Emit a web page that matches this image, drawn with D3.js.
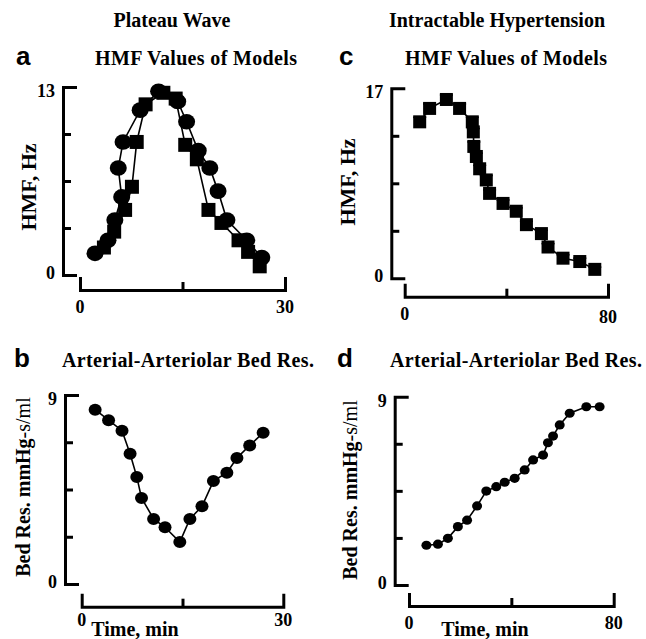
<!DOCTYPE html>
<html>
<head>
<meta charset="utf-8">
<script src="https://cdn.jsdelivr.net/npm/d3@7"></script>
<style>
  html, body { margin: 0; padding: 0; background: #fff; }
  svg { display: block; }
  .serif { font-family: "Liberation Serif", "Times New Roman", serif; font-weight: bold; }
  .sans { font-family: "Liberation Sans", Arial, sans-serif; font-weight: bold; }
</style>
</head>
<body>
<svg id="chart" width="646" height="639"></svg>
<script>
// ---- Panel a: HMF of the plateau-wave models (two model series) ----
const aTimeCircle = [2.2, 4.1, 5.1, 6.1, 5.6, 6.3, 8.8, 11.5, 14.3, 15.6, 17.3, 19.0, 20.2, 21.5, 24.4, 26.6];
const aHmfCircle  = [1.5, 2.4, 3.8, 5.4, 7.4, 9.2, 11.4, 12.7, 12.0, 10.6, 8.6, 7.4, 5.8, 3.8, 2.4, 1.2];
const aTimeSquare = [3.5, 5.0, 6.6, 7.6, 8.3, 9.6, 12.2, 14.0, 15.4, 17.1, 18.8, 20.7, 23.2, 24.6, 26.3];
const aHmfSquare  = [1.9, 3.0, 4.5, 6.1, 9.2, 11.8, 12.6, 12.2, 9.0, 8.0, 4.5, 3.6, 2.4, 1.6, 0.6];

// ---- Panel b: arterial-arteriolar bed resistance, plateau wave ----
const bTime = [2.0, 4.0, 6.0, 7.2, 8.2, 8.9, 10.7, 12.4, 14.6, 16.1, 17.9, 19.6, 21.6, 23.1, 25.0, 27.0];
const bRes  = [8.3, 7.8, 7.3, 6.2, 5.1, 4.1, 3.1, 2.7, 2.0, 3.1, 3.7, 4.9, 5.3, 6.0, 6.6, 7.2];

// ---- Panel c: HMF of the intractable-hypertension model ----
const cTime = [5.9, 9.8, 16.4, 21.6, 26.6, 27.0, 27.2, 28.2, 29.5, 32.1, 33.4, 38.7, 43.9, 47.9, 53.8, 56.4, 62.3, 68.9, 74.8];
const cHmf  = [14.0, 15.2, 16.0, 15.2, 14.0, 13.1, 11.8, 10.9, 9.8, 8.8, 7.6, 6.7, 6.0, 4.8, 4.0, 2.8, 1.8, 1.5, 0.8];
const cErr  = [0.4, 0.4, 0.4, 0.4, 0.4, 0.3, 0.4, 0.3, 0.3, 0.4, 0.3, 0.3, 0.3, 0.3, 0.3, 0.3, 0.3, 0.3, 0.2];

// ---- Panel d: arterial-arteriolar bed resistance, intractable hypertension ----
const dTime = [6.8, 11.3, 15.2, 19.1, 22.7, 26.6, 30.2, 34.1, 37.4, 41.3, 45.2, 48.5, 52.4, 54.3, 56.3, 58.9, 62.8, 69.3, 74.5];
const dRes  = [1.9, 1.95, 2.23, 2.79, 3.1, 3.78, 4.49, 4.7, 4.91, 5.1, 5.5, 5.98, 6.21, 6.8, 7.12, 7.65, 8.21, 8.52, 8.52];

// ---- Axis domains and tick labels ----
const aYMax = 13, bYMax = 9, cYMax = 17, dYMax = 9;
const aXMax = 30, bXMax = 30, cXMax = 80, dXMax = 80;
const columnTitles = ["Plateau Wave", "Intractable Hypertension"];
const panelLetters = ["a", "b", "c", "d"];
const panelTitles = ["HMF Values of Models", "Arterial-Arteriolar Bed Res.", "HMF Values of Models", "Arterial-Arteriolar Bed Res."];
const hmfLabel = "HMF, Hz";
const resLabelBold = "Bed Res. mmHg";
const resLabelUnit = "-s/ml";
const timeLabel = "Time, min";

const svg = d3.select("#chart");

// Column headings
svg.append("text").attr("class", "serif").attr("x", 172).attr("y", 27)
  .attr("text-anchor", "middle").attr("font-size", 20).text(columnTitles[0]);
svg.append("text").attr("class", "serif").attr("x", 497).attr("y", 27)
  .attr("text-anchor", "middle").attr("font-size", 20).text(columnTitles[1]);

// Draws one panel: bracket-style y axis, detached x axis, series and labels.
function panel(o) {
  const g = svg.append("g");
  const x = d3.scaleLinear().domain([0, o.xMax]).range([o.x0, o.x1]);
  const y = d3.scaleLinear().domain([0, o.yMax]).range([o.yBottom, o.yTop]);

  // letter and title
  g.append("text").attr("class", "sans").attr("x", o.letterX).attr("y", o.titleY)
    .attr("font-size", 26).text(o.letter);
  g.append("text").attr("class", "serif").attr("x", o.titleX).attr("y", o.titleY)
    .attr("font-size", 20).attr("textLength", o.titleWidth).attr("lengthAdjust", "spacing")
    .text(o.title);

  // y axis: bracket with inward ticks
  const yTicks = [1, 2, 3].map(i => o.yMax * i / 4);
  const yAxis = d3.axisRight(y).tickValues(yTicks).tickSizeInner(8).tickSizeOuter(14).tickFormat("");
  const ya = g.append("g").attr("transform", `translate(${o.yAxisX},0)`).call(yAxis);
  ya.selectAll("path, line").attr("stroke", "#000").attr("stroke-width", 3);

  // x axis: detached line with upward end caps and a middle tick
  const xAxis = d3.axisTop(x).tickValues([o.xMax / 2]).tickSizeInner(8).tickSizeOuter(13).tickFormat("");
  const xa = g.append("g").attr("transform", `translate(0,${o.xAxisY})`).call(xAxis);
  xa.selectAll("path, line").attr("stroke", "#000").attr("stroke-width", 3);

  // tick labels
  g.append("text").attr("class", "serif").attr("font-size", 18).attr("text-anchor", "end")
    .attr("x", o.yAxisX - 8).attr("y", y(o.yMax) + 10).text(o.yMax);
  g.append("text").attr("class", "serif").attr("font-size", 18).attr("text-anchor", "end")
    .attr("x", o.yAxisX - 8).attr("y", y(0) + 4).text(0);
  g.append("text").attr("class", "serif").attr("font-size", 18).attr("text-anchor", "middle")
    .attr("x", x(0)).attr("y", o.xLabelY).text(0);
  g.append("text").attr("class", "serif").attr("font-size", 18).attr("text-anchor", "middle")
    .attr("x", x(o.xMax)).attr("y", o.xLabelY + (o.xMaxDrop || 0)).text(o.xMax);

  // y axis title
  const yl = g.append("text").attr("class", "serif").attr("font-size", o.yLabelSize)
    .attr("text-anchor", "middle")
    .attr("transform", `translate(${o.yLabelX},${o.yLabelY}) rotate(-90)`);
  if (o.yLabelUnit) {
    yl.append("tspan").text(o.yLabel);
    yl.append("tspan").attr("font-weight", "normal").text(o.yLabelUnit);
  } else {
    yl.text(o.yLabel);
  }

  if (o.timeLabelX) {
    g.append("text").attr("class", "serif").attr("font-size", 20).attr("text-anchor", "middle")
      .attr("x", o.timeLabelX).attr("y", 636).text(timeLabel);
  }

  const line = d3.line().x(d => x(d[0])).y(d => y(d[1]));
  o.series.forEach(s => {
    const pts = d3.zip(s.t, s.v);
    g.append("path").datum(pts).attr("d", line).attr("fill", "none")
      .attr("stroke", "#000").attr("stroke-width", 1.6);
    if (s.err) {
      const eb = g.append("g");
      pts.forEach((p, i) => {
        const cy = y(p[1]), top = y(p[1] + s.err[i]);
        eb.append("line").attr("x1", x(p[0])).attr("x2", x(p[0])).attr("y1", cy).attr("y2", top)
          .attr("stroke", "#000").attr("stroke-width", 1.5);
        eb.append("line").attr("x1", x(p[0]) - s.size / 2).attr("x2", x(p[0]) + s.size / 2)
          .attr("y1", top).attr("y2", top).attr("stroke", "#000").attr("stroke-width", 1.5);
      });
    }
    const m = g.append("g");
    if (s.shape === "circle") {
      m.selectAll("ellipse").data(pts).join("ellipse")
        .attr("cx", d => x(d[0])).attr("cy", d => y(d[1]))
        .attr("rx", s.size / 2).attr("ry", s.size / 2 * 0.92).attr("fill", "#000");
    } else {
      m.selectAll("rect").data(pts).join("rect")
        .attr("x", d => x(d[0]) - s.size / 2).attr("y", d => y(d[1]) - s.size / 2)
        .attr("width", s.size).attr("height", s.size).attr("fill", "#000");
    }
  });
}

panel({
  letter: panelLetters[0], title: panelTitles[0], letterX: 16, titleX: 95, titleY: 65, titleWidth: 202,
  xMax: aXMax, yMax: aYMax, x0: 80, x1: 285, yBottom: 275, yTop: 87,
  yAxisX: 63, xAxisY: 290, xLabelY: 313,
  yLabel: hmfLabel, yLabelSize: 22, yLabelX: 36, yLabelY: 187,
  series: [
    { t: aTimeSquare, v: aHmfSquare, shape: "square", size: 14 },
    { t: aTimeCircle, v: aHmfCircle, shape: "circle", size: 17 }
  ]
});

panel({
  letter: panelLetters[1], title: panelTitles[1], letterX: 14, titleX: 62, titleY: 367, titleWidth: 252,
  xMax: bXMax, yMax: bYMax, x0: 81.7, x1: 283.3, yBottom: 584, yTop: 395,
  yAxisX: 65, xAxisY: 606.7, xLabelY: 626,
  yLabel: resLabelBold, yLabelUnit: resLabelUnit, yLabelSize: 20, yLabelX: 30, yLabelY: 487,
  timeLabelX: 135,
  series: [{ t: bTime, v: bRes, shape: "circle", size: 13 }]
});

panel({
  letter: panelLetters[2], title: panelTitles[2], letterX: 339, titleX: 405, titleY: 65, titleWidth: 202,
  xMax: cXMax, yMax: cYMax, x0: 404.7, x1: 608, yBottom: 278.3, yTop: 88.3,
  yAxisX: 391.3, xAxisY: 296.7, xLabelY: 320, xMaxDrop: 3,
  yLabel: hmfLabel, yLabelSize: 22, yLabelX: 355, yLabelY: 182,
  series: [{ t: cTime, v: cHmf, err: cErr, shape: "square", size: 13 }]
});

panel({
  letter: panelLetters[3], title: panelTitles[3], letterX: 337, titleX: 390, titleY: 367, titleWidth: 252,
  xMax: dXMax, yMax: dYMax, x0: 409, x1: 613.7, yBottom: 585, yTop: 396.7,
  yAxisX: 394.7, xAxisY: 606, xLabelY: 629,
  yLabel: resLabelBold, yLabelUnit: resLabelUnit, yLabelSize: 20, yLabelX: 357, yLabelY: 490,
  timeLabelX: 485,
  series: [{ t: dTime, v: dRes, shape: "circle", size: 10 }]
});
</script>
</body>
</html>
